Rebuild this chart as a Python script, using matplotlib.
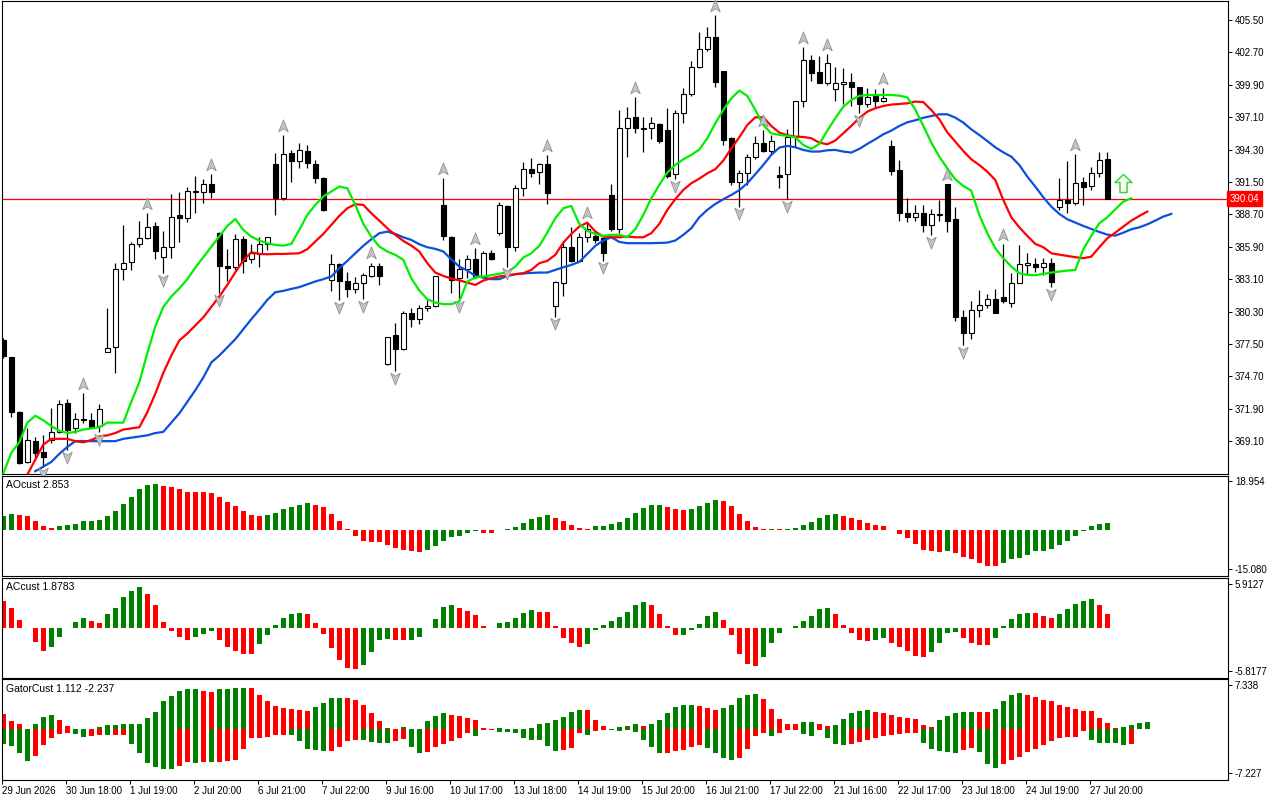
import matplotlib
matplotlib.use('Agg')
import matplotlib.pyplot as plt
import numpy as np
from matplotlib.path import Path
from matplotlib.transforms import offset_copy, blended_transform_factory

plt.rcParams['font.family'] = ['Liberation Sans', 'DejaVu Sans']

#### Candles (bar index 0 .. 138)
opens = [377.84, 376.37, 371.6, 367.3, 369.1, 368.16, 369.2, 369.89, 372.4, 370.2,
         371.0, 370.9, 370.4, 376.8, 377.24, 384.0, 384.6, 386.1, 386.7, 387.7,
         385.0, 385.9, 388.65, 388.4, 390.6, 390.6, 391.3, 387.1, 384.2, 384.13,
         386.55, 384.82, 385.28, 386.15, 393.06, 390.15, 393.98, 393.35, 394.18, 393.06,
         391.82, 383.04, 384.42, 382.9, 382.23, 382.75, 383.41, 384.25, 375.75, 378.29,
         377.05, 380.16, 379.64, 380.59, 380.79, 389.52, 386.78, 383.18, 383.96, 384.82,
         383.27, 385.4, 387.07, 389.43, 385.86, 390.96, 392.6, 392.4, 393.06, 380.78,
         382.81, 385.86, 384.71, 386.78, 386.84, 386.64, 390.38, 387.41, 396.14, 397.1,
         396.2, 396.14, 396.52, 396.0, 392.2, 397.44, 399.08, 401.47, 402.97, 404.0,
         401.1, 395.34, 391.53, 392.25, 393.64, 394.9, 394.21, 392.11, 392.17, 395.42,
         398.5, 402.05, 401.04, 400.09, 399.51, 399.97, 400.15, 399.69, 398.24, 398.94,
         398.53, 394.62, 392.54, 388.8, 388.45, 388.79, 387.79, 388.65, 391.33, 388.28,
         379.81, 378.43, 380.44, 380.87, 381.36, 381.54, 381.02, 382.8, 384.36, 384.42,
         384.13, 384.48, 389.31, 389.95, 389.72, 391.47, 391.18, 392.25, 393.46]
highs = [378.0, 376.4, 371.7, 370.24, 369.46, 369.63, 371.96, 372.66, 372.74, 371.5,
         373.3, 371.5, 372.3, 380.6, 384.5, 387.8, 386.3, 388.1, 388.8, 388.0,
         387.3, 390.5, 390.6, 391.1, 392.0, 391.8, 392.2, 387.2, 385.7, 387.0,
         386.84, 386.15, 386.78, 386.78, 393.98, 395.57, 394.27, 394.9, 394.7, 393.4,
         391.9, 385.29, 384.48, 383.76, 383.27, 383.67, 384.54, 384.48, 378.1, 379.3,
         380.39, 380.59, 380.88, 381.31, 383.4, 391.82, 386.8, 384.82, 385.2, 385.77,
         385.57, 385.63, 389.81, 389.5, 391.25, 393.26, 393.55, 393.18, 393.84, 382.9,
         386.44, 387.65, 387.07, 388.08, 387.36, 386.72, 391.3, 397.73, 397.96, 398.88,
         397.1, 397.1, 396.63, 397.87, 397.73, 399.6, 401.99, 404.49, 404.87, 405.93,
         401.1, 395.42, 392.54, 393.92, 395.48, 396.0, 395.57, 392.89, 396.06, 398.5,
         403.2, 402.45, 402.39, 402.6, 401.41, 401.33, 400.95, 399.69, 399.6, 399.51,
         399.65, 395.13, 393.41, 390.09, 389.52, 389.51, 389.14, 389.95, 391.33, 389.37,
         380.44, 381.25, 382.17, 381.82, 382.23, 386.15, 383.67, 386.06, 385.34, 384.91,
         384.91, 384.91, 391.82, 393.35, 393.92, 391.9, 392.77, 394.12, 394.12]
lows = [376.3, 371.19, 367.1, 367.2, 367.64, 366.9, 368.94, 369.8, 368.3, 369.8,
        370.7, 370.2, 369.9, 376.8, 375.0, 383.0, 383.9, 385.9, 386.6, 384.8,
        383.6, 384.9, 386.3, 388.0, 388.8, 389.7, 390.1, 381.9, 382.9, 383.9,
        383.67, 384.48, 384.13, 385.63, 388.65, 389.95, 391.53, 392.69, 392.69, 391.45,
        389.0, 382.12, 381.31, 381.54, 381.94, 381.4, 383.27, 382.6, 375.7, 375.12,
        377.0, 379.0, 379.24, 380.39, 380.7, 386.49, 381.9, 381.37, 383.18, 383.18,
        383.18, 384.77, 386.93, 384.19, 385.57, 390.3, 391.97, 391.33, 389.6, 379.86,
        381.66, 384.62, 384.62, 386.35, 386.21, 384.71, 387.3, 387.07, 393.64, 395.77,
        394.13, 395.19, 394.85, 391.85, 391.75, 396.57, 398.94, 401.33, 402.85, 399.74,
        394.7, 391.25, 389.37, 391.25, 393.46, 394.13, 393.92, 390.96, 390.01, 394.56,
        397.96, 400.26, 400.03, 399.89, 398.53, 398.24, 398.07, 397.44, 398.01, 397.96,
        398.45, 392.11, 388.16, 388.08, 388.16, 387.21, 386.92, 388.16, 387.21, 379.52,
        377.42, 377.91, 379.87, 380.59, 380.15, 381.08, 380.73, 382.75, 383.47, 383.76,
        383.47, 382.4, 389.08, 388.8, 389.51, 389.51, 390.81, 391.9, 390.0]
closes = [376.46, 371.62, 367.21, 369.2, 368.08, 367.73, 369.89, 372.31, 370.1, 371.0,
          370.9, 370.3, 371.9, 377.15, 383.98, 384.5, 386.1, 386.7, 387.6, 385.5,
          385.9, 388.5, 388.4, 390.7, 390.7, 391.3, 390.6, 384.2, 384.1, 386.55,
          384.71, 385.34, 386.15, 386.72, 390.09, 393.92, 393.35, 394.27, 393.12, 391.82,
          389.09, 384.42, 382.9, 382.23, 382.81, 383.47, 384.25, 383.41, 378.08, 377.05,
          380.16, 379.64, 380.59, 380.79, 383.38, 386.84, 383.04, 383.96, 384.82, 383.27,
          385.4, 384.82, 389.52, 385.86, 390.96, 392.6, 392.31, 393.06, 390.53, 382.88,
          385.92, 384.71, 386.78, 387.41, 386.49, 385.4, 387.41, 396.14, 397.01, 396.14,
          396.08, 396.57, 395.08, 392.02, 397.5, 399.08, 401.47, 402.97, 404.0, 400.17,
          395.13, 391.53, 392.25, 393.69, 394.9, 394.21, 395.05, 391.91, 395.42, 398.5,
          402.05, 400.95, 400.09, 401.76, 400.03, 400.15, 399.74, 398.24, 398.88, 398.53,
          398.73, 392.48, 388.8, 388.45, 388.8, 387.79, 388.71, 388.72, 388.16, 379.87,
          378.43, 380.44, 380.87, 381.36, 380.15, 381.25, 382.8, 384.42, 384.48, 384.13,
          384.48, 382.89, 389.95, 389.72, 391.39, 391.1, 392.25, 393.4, 390.04]

#### Alligator lines (shifted forward, first bar index given)
lips_start = 0
lips = [366.3, 368.1, 369.0, 370.7, 371.3, 370.9, 370.4, 370.0, 369.8, 369.9,
        370.1, 370.2, 370.3, 370.7, 370.7, 370.7, 372.5, 374.2, 376.7, 379.0,
        380.7, 381.6, 382.3, 383.1, 384.1, 385.0, 385.9, 386.8, 387.7, 388.3,
        387.36, 386.78, 386.44, 386.21, 386.06, 386.0, 386.15, 387.36, 388.65, 389.52,
        390.24, 390.67, 391.1, 390.96, 389.52, 387.88, 386.78, 385.92, 385.49, 385.2,
        384.77, 383.18, 382.12, 381.37, 381.08, 380.94, 380.94, 381.17, 382.9, 383.24,
        383.33, 383.44, 383.56, 383.7, 384.19, 384.97, 385.34, 385.98, 387.13, 388.37,
        389.23, 389.43, 387.88, 387.27, 387.01, 386.84, 386.93, 386.93, 386.72, 387.42,
        388.65, 390.09, 391.25, 392.31, 392.97, 393.46, 393.84, 394.3, 395.28, 396.57,
        397.73, 398.73, 399.4, 398.94, 397.73, 396.43, 395.71, 395.57, 395.48, 395.36,
        394.7, 394.36, 394.79, 395.94, 397.01, 398.01, 398.59, 398.94, 399.02, 399.02,
        399.02, 399.02, 398.96, 398.82, 397.77, 396.35, 394.9, 393.69, 392.68, 391.73,
        391.16, 390.75, 388.65, 387.07, 385.77, 384.91, 384.19, 383.61, 383.47, 383.44,
        383.55, 383.67, 383.76, 383.84, 383.9, 385.68, 386.84, 387.93, 388.45, 389.14,
        389.81, 390.09]
teeth_start = 3
teeth = [366.2, 367.5, 368.8, 369.3, 369.3, 369.3, 369.1, 369.0, 369.2, 369.5,
         369.6, 369.8, 370.1, 370.2, 370.3, 371.6, 373.2, 375.0, 376.5, 377.8,
         378.4, 379.1, 379.8, 380.7, 381.6, 382.6, 383.7, 384.71, 385.43, 385.28,
         385.25, 385.28, 385.28, 385.31, 385.34, 385.69, 386.35, 387.01, 387.79, 388.57,
         389.23, 389.58, 389.52, 388.8, 388.16, 387.5, 386.93, 386.41, 386.0, 385.49,
         384.48, 383.67, 383.38, 383.15, 383.0, 382.8, 382.6, 382.98, 383.18, 383.33,
         383.41, 383.53, 383.61, 383.9, 384.48, 384.68, 385.2, 386.26, 387.01, 387.65,
         387.99, 387.21, 386.78, 386.72, 386.72, 386.78, 386.72, 386.72, 387.07, 387.88,
         389.09, 390.01, 390.81, 391.39, 391.79, 392.25, 392.6, 393.35, 394.41, 395.36,
         396.43, 397.09, 397.09, 396.34, 395.77, 395.54, 395.42, 395.39, 395.28, 394.9,
         394.76, 395.08, 395.71, 396.34, 397.03, 397.58, 397.87, 398.07, 398.19, 398.24,
         398.3, 398.45, 398.4, 397.72, 396.92, 395.79, 394.99, 394.18, 393.46, 392.97,
         392.39, 391.67, 389.95, 388.45, 387.58, 386.84, 386.15, 385.86, 385.34, 385.22,
         385.11, 385.0, 384.91, 385.05, 385.86, 386.63, 387.12, 387.64, 388.16, 388.56,
         388.94]
jaw_start = 4
jaw = [366.5, 366.9, 367.3, 368.0, 368.6, 369.1, 369.1, 369.1, 369.1, 369.1,
       369.1, 369.3, 369.4, 369.5, 369.6, 369.8, 369.9, 370.7, 371.5, 372.5,
       373.5, 374.6, 375.9, 376.5, 377.2, 377.91, 378.78, 379.64, 380.45, 381.31,
       381.97, 382.09, 382.26, 382.41, 382.66, 382.9, 383.1, 383.33, 384.05, 384.68,
       385.34, 385.98, 386.55, 387.07, 387.21, 387.01, 386.72, 386.49, 386.12, 385.86,
       385.72, 385.49, 384.82, 384.19, 383.85, 383.38, 383.24, 383.1, 383.1, 383.38,
       383.53, 383.59, 383.64, 383.67, 383.67, 383.9, 384.13, 384.33, 384.59, 385.28,
       385.98, 386.44, 386.72, 386.32, 386.21, 386.21, 386.21, 386.21, 386.23, 386.26,
       386.44, 386.93, 387.5, 388.45, 389.09, 389.6, 390.01, 390.38, 390.79, 391.39,
       392.17, 392.97, 393.84, 394.47, 394.62, 394.5, 394.27, 394.13, 394.13, 394.24,
       394.27, 394.13, 394.04, 394.36, 394.79, 395.19, 395.62, 395.94, 396.34, 396.66,
       396.83, 397.05, 397.2, 397.35, 397.35, 397.06, 396.63, 396.05, 395.56, 395.04,
       394.5, 394.06, 393.69, 392.97, 391.96, 391.1, 390.18, 389.37, 388.74, 388.28,
       387.99, 387.7, 387.44, 387.18, 386.95, 386.86, 387.12, 387.41, 387.58, 387.84,
       388.16, 388.51, 388.74]

#### Fractals and signal
up_fractals = [10, 18, 26, 35, 46, 55, 59, 68, 73, 79, 89, 95, 100, 103, 110, 118, 125, 134]
down_fractals = [5, 8, 12, 20, 27, 42, 45, 49, 57, 63, 69, 75, 84, 92, 98, 107, 116, 120, 131]
signal_bar = 140
signal_price = 391.45
last_price = 390.04

#### Oscillators (dir: g = rising, r = falling)
ao = [5.5, 6.4, 5.9, 5.5, 3.7, 1.7, 0.9, 1.7, 2.1, 2.4,
      3.5, 3.6, 4.0, 5.5, 7.6, 10.2, 12.9, 15.9, 17.5, 18.0,
      17.1, 16.6, 16.0, 14.9, 14.85, 14.8, 14.4, 12.9, 11.0, 9.4,
      7.5, 5.9, 5.5, 5.9, 6.8, 8.1, 8.8, 9.9, 10.7, 9.8,
      8.8, 6.4, 3.4, 0.6, -2.2, -4.1, -4.4, -4.45, -5.7, -6.7,
      -7.6, -8.0, -8.6, -7.6, -6.3, -4.1, -2.8, -2.2, -0.9, -0.5,
      -0.9, -0.95, 0.1, 0.5, 1.3, 2.8, 4.4, 5.2, 5.9, 4.8,
      3.6, 2.1, 0.9, 0.3, 1.7, 1.75, 2.4, 3.2, 4.8, 6.7,
      8.6, 9.8, 9.85, 9.0, 8.2, 7.9, 8.2, 9.4, 10.6, 11.7,
      11.3, 9.4, 6.3, 3.6, 1.3, 0.5, 0.52, 0.45, 0.6, 0.95,
      2.1, 3.2, 4.8, 5.9, 6.3, 5.5, 4.8, 4.0, 2.8, 2.1,
      1.7, 0.1, -1.3, -3.2, -5.2, -7.6, -8.2, -8.6, -8.2, -9.0,
      -10.2, -11.3, -12.5, -13.7, -13.75, -12.5, -11.3, -10.6, -9.4, -8.2,
      -7.9, -7.1, -5.9, -4.0, -2.1, -0.4, 1.7, 2.4, 2.853]
ao_dir = ("ggrrrrrggg" "gggggggggg" "rrrrrrrrrr" "rrrggggggr" "rrrrrrrrrr"
          "rrrggggggg" "rrgggggggr" "rrrrgggggg" "gggrrrgggg" "rrrrrrgrgg"
          "gggggrrrrr" "rrrrrrrrgr" "rrrrrggggg" "ggggggggg")
ac = [3.6, 2.7, 1.0, -0.1, -1.9, -3.1, -2.6, -1.2, -0.1, 0.8,
      1.35, 0.95, 0.7, 1.8, 2.7, 4.1, 5.0, 5.5, 4.6, 3.1,
      0.8, -0.4, -1.2, -1.6, -1.2, -0.8, -0.5, -1.6, -2.6, -3.2,
      -3.5, -3.6, -2.2, -1.0, 0.3, 1.35, 1.85, 2.0, 1.9, 0.7,
      -0.8, -2.8, -4.4, -5.4, -5.5, -5.0, -3.3, -1.7, -1.55, -1.6,
      -1.65, -1.6, -1.3, -0.1, 1.2, 2.8, 3.0, 2.6, 2.3, 1.75,
      0.27, -0.1, 0.67, 0.8, 1.35, 2.0, 2.4, 2.15, 2.1, 0.27,
      -1.35, -2.1, -2.6, -2.25, -0.27, 0.4, 0.95, 1.5, 2.15, 3.0,
      3.4, 3.1, 1.9, 0.27, -1.0, -0.95, -0.36, 0.55, 1.6, 2.15,
      1.08, -1.0, -3.5, -4.9, -5.1, -3.9, -2.0, -0.76, -0.05, 0.27,
      0.95, 1.6, 2.55, 2.7, 1.9, 0.4, -0.76, -1.6, -1.85, -1.7,
      -1.45, -2.0, -2.6, -3.2, -3.8, -4.0, -3.3, -2.1, -0.76, -0.6,
      -1.45, -2.0, -2.3, -2.3, -1.45, 0.27, 1.2, 1.9, 2.0, 2.0,
      1.6, 1.35, 1.9, 2.55, 3.2, 3.6, 3.9, 3.1, 1.8783]
ac_dir = ("rrrrrrgggg" "grrgggggrr" "rrrrgggrrr" "rrggggggrr" "rrrrrggggr"
          "rggggggrrr" "rrgggggrrr" "rrrggggggg" "grrrrggggg" "rrrrrggggg"
          "ggggrrrrrg" "grrrrrgggg" "rrrrgggggr" "rrgggggrr")
gator_up = [2.5, 1.4, 0.9, 0.05, 0.9, 2.0, 2.4, 1.5, 0.55, 0.02,
            0.03, 0.02, 0.45, 0.7, 0.72, 0.9, 0.92, 0.95, 1.9, 2.9,
            4.7, 5.5, 6.3, 6.7, 6.75, 6.3, 6.25, 6.6, 6.7, 6.85,
            6.9, 6.8, 5.7, 4.7, 3.9, 3.5, 3.3, 3.2, 3.0, 3.75,
            4.3, 5.1, 5.2, 5.1, 4.9, 4.1, 2.65, 1.4, 0.25, 0.02,
            0.45, 0.02, 0.01, 1.4, 2.2, 2.7, 2.4, 2.2, 1.9, 1.55,
            0.22, 0.05, 0.2, 0.02, 0.01, 0.0, 0.15, 0.9, 1.05, 1.55,
            2.1, 2.9, 3.2, 3.15, 1.55, 0.55, 0.05, 0.4, 0.55, 0.8,
            0.55, 0.8, 1.55, 2.7, 3.75, 3.95, 3.97, 3.8, 3.6, 3.25,
            3.6, 4.1, 5.1, 5.6, 5.8, 5.0, 3.4, 1.77, 0.94, 0.92,
            1.16, 1.27, 0.88, 0.55, 0.72, 1.71, 2.7, 3.04, 3.2, 2.87,
            2.7, 2.37, 2.04, 1.88, 1.71, 0.72, 0.39, 1.55, 2.21, 2.7,
            2.87, 2.88, 2.85, 2.84, 3.37, 4.69, 5.68, 6.0, 5.68, 5.35,
            4.86, 4.69, 4.03, 3.7, 3.37, 3.04, 3.03, 1.88, 1.112, 0.22,
            0.39, 0.72, 1.05, 1.21]
gator_up_dir = ("rrrrgggrrr" "grgggggggg" "gggggrrggg" "grrrrrrrrg" "gggrrrrrrr"
                "grrgggrrrr" "rggrrrgggg" "gggrrrgggg" "rggggggrrr" "gggggrrrrr"
                "ggrrgggggr" "rrrrrrrggg" "ggrrggggrr" "rrrrrrrrrr" "gggg")
gator_dn = [-2.4, -2.8, -4.0, -5.2, -4.4, -2.6, -1.4, -0.8, -0.55, -0.7,
            -1.3, -1.1, -0.95, -1.0, -1.0, -0.95, -2.5, -4.0, -5.5, -6.3,
            -6.5, -6.6, -6.1, -5.4, -5.5, -5.4, -5.45, -5.4, -5.2, -5.1,
            -3.2, -1.4, -1.4, -1.2, -0.9, -0.9, -0.92, -2.0, -3.2, -3.4,
            -3.6, -3.55, -3.0, -2.0, -1.7, -1.75, -2.1, -2.2, -2.25, -1.9,
            -1.65, -3.0, -4.0, -3.75, -2.9, -2.5, -2.0, -1.4, -0.55, -1.1,
            -0.1, -0.05, -0.45, -0.47, -0.55, -1.4, -1.75, -1.76, -2.75, -3.6,
            -3.4, -3.1, -0.55, -0.95, -0.3, -0.1, -0.12, -0.3, -0.1, -0.45,
            -1.75, -3.0, -4.0, -3.85, -3.6, -3.4, -2.9, -2.65, -3.1, -3.9,
            -4.75, -5.1, -4.75, -3.3, -1.1, -0.6, -1.1, -0.6, -0.17, -0.15,
            -0.83, -1.1, -0.11, -1.38, -2.37, -2.54, -2.5, -2.04, -1.71, -1.38,
            -1.05, -0.88, -0.72, -0.55, -0.54, -2.21, -3.2, -3.59, -3.75, -3.86,
            -3.37, -3.04, -3.75, -5.68, -6.35, -5.68, -5.0, -4.53, -3.75, -3.2,
            -2.54, -1.93, -1.38, -1.21, -1.2, -0.28, -1.71, -2.21, -2.237, -2.25,
            -2.54, -2.5]
gator_dn_dir = ("ggggrrrrrg" "grrgrrgggg" "ggrrgrgrrr" "rrrrrrgggg" "grrrrggggr"
                "rggrrrrrrg" "rrgggggggg" "rrrgrrggrg" "gggrrrrrgg" "ggrrrrgrrr"
                "ggrgggrrrr" "rrrrrggggg" "rrgggrrrrr" "rrrrrrgggg" "gr")

#### Axis labels
price_ticks = [405.50, 402.70, 399.90, 397.10, 394.30, 391.50, 388.70,
               385.90, 383.10, 380.30, 377.50, 374.70, 371.90, 369.10]
ao_ticks = [18.954, -15.080]
ao_tick_labels = ['18.954', '-15.080']
ac_ticks = [5.9127, -5.8177]
ac_tick_labels = ['5.9127', '-5.8177']
gator_ticks = [7.338, -7.227]
gator_tick_labels = ['7.338', '-7.227']
date_labels = ['29 Jun 2026', '30 Jun 18:00', '1 Jul 19:00', '2 Jul 20:00', '6 Jul 21:00',
               '7 Jul 22:00', '9 Jul 16:00', '10 Jul 17:00', '13 Jul 18:00', '14 Jul 19:00',
               '15 Jul 20:00', '16 Jul 21:00', '17 Jul 22:00', '21 Jul 16:00', '22 Jul 17:00',
               '23 Jul 18:00', '24 Jul 19:00', '27 Jul 20:00']
date_every = 8

GREEN = '#008000'
RED = '#ff0000'
W, H = 1280, 800
fig = plt.figure(figsize=(12.8, 8), dpi=100)


def px_axes(x0, y0, x1, y1):
    return fig.add_axes([x0 / W, 1 - y1 / H, (x1 - x0) / W, (y1 - y0) / H])


main = px_axes(2, 1, 1228, 474)
ao_ax = px_axes(2, 476, 1228, 576)
ac_ax = px_axes(2, 577.5, 1228, 677.5)
gt_ax = px_axes(2, 679, 1228, 779.5)

xmin, xmax = (2 - 3.3) / 8, (1228 - 3.3) / 8
for ax in (main, ao_ax, ac_ax, gt_ax):
    ax.set_xlim(xmin, xmax)
    for s in ax.spines.values():
        s.set_linewidth(0.8)
        s.set_color('black')
    ax.tick_params(axis='y', left=False, labelleft=False, right=True, labelright=True,
                   length=3, width=0.7, labelsize=7, pad=2, direction='out')
    ax.tick_params(axis='x', bottom=False, labelbottom=False)

#### Main chart
main.set_ylim(405.5 - 454 / 11.57, 405.5 + 19 / 11.57)
main.set_yticks(price_ticks)
main.set_yticklabels(['%.2f' % t for t in price_ticks])

x = np.arange(len(opens))
o = np.array(opens); c = np.array(closes)
main.vlines(x, lows, highs, color='black', lw=0.9, zorder=2)
body_lo = np.minimum(o, c)
body_h = np.maximum(np.abs(c - o), 0.04)
face = ['white' if cc >= oo else 'black' for oo, cc in zip(o, c)]
main.bar(x, body_h, bottom=body_lo, width=0.62, color=face, edgecolor='black',
         linewidth=0.8, zorder=3)

main.plot(np.arange(jaw_start, jaw_start + len(jaw)), jaw, color='#0a50dc', lw=1.6, zorder=4)
main.plot(np.arange(teeth_start, teeth_start + len(teeth)), teeth, color='#ff0000', lw=1.6, zorder=4)
main.plot(np.arange(lips_start, lips_start + len(lips)), lips, color='#00ee00', lw=1.6, zorder=4)

main.axhline(last_price, color='#ff0000', lw=0.9, zorder=1)
btr = blended_transform_factory(main.transAxes, main.transData)
main.text(1.0015, last_price, '%.2f' % last_price, transform=btr, fontsize=7, color='white',
          va='center', ha='left', clip_on=False,
          bbox=dict(boxstyle='square,pad=0.25', fc='#ff0000', ec='#ff0000'))

# fractal arrows
arrow = Path([(0, 1), (0.72, -0.8), (0, -0.35), (-0.72, -0.8), (0, 1)],
             [Path.MOVETO, Path.LINETO, Path.LINETO, Path.LINETO, Path.CLOSEPOLY])
arrow_dn = Path(arrow.vertices * [1, -1], arrow.codes)
hi = np.array(highs); lo = np.array(lows)
up_tr = offset_copy(main.transData, fig=fig, y=6.5, units='points')
dn_tr = offset_copy(main.transData, fig=fig, y=-4.9, units='points')
main.plot(up_fractals, hi[up_fractals], ls='none', marker=arrow, markersize=9.5,
          mfc='#c4c4c4', mec='#8f8f8f', mew=0.6, transform=up_tr, zorder=5, clip_on=False)
main.plot(down_fractals, lo[down_fractals], ls='none', marker=arrow_dn, markersize=9.5,
          mfc='#c4c4c4', mec='#8f8f8f', mew=0.6, transform=dn_tr, zorder=5, clip_on=False)

big_arrow = Path([(0, 1), (0.94, 0.11), (0.39, 0.11), (0.39, -1), (-0.39, -1), (-0.39, 0.11),
                  (-0.94, 0.11), (0, 1)],
                 [Path.MOVETO] + [Path.LINETO] * 6 + [Path.CLOSEPOLY])
main.plot([signal_bar], [signal_price], ls='none', marker=big_arrow, markersize=13,
          mfc='#fbfff0', mec='#44d044', mew=1.1, zorder=6)

#### AO
ao_ax.set_ylim(-45.8 / 2.586, 54.2 / 2.586)
ao_ax.bar(np.arange(len(ao)), ao, width=0.6,
          color=[GREEN if d == 'g' else RED for d in ao_dir], linewidth=0)
ao_ax.set_yticks(ao_ticks)
ao_ax.set_yticklabels(ao_tick_labels)
ao_ax.text(0.0033, 0.955, 'AOcust %.3f' % ao[-1], transform=ao_ax.transAxes,
           fontsize=7.5, va='top', ha='left')

#### AC
ac_ax.set_ylim(-49.8 / 7.42, 50.2 / 7.42)
ac_ax.bar(np.arange(len(ac)), ac, width=0.6,
          color=[GREEN if d == 'g' else RED for d in ac_dir], linewidth=0)
ac_ax.set_yticks(ac_ticks)
ac_ax.set_yticklabels(ac_tick_labels)
ac_ax.text(0.0033, 0.955, 'ACcust %.4f' % ac[-1], transform=ac_ax.transAxes,
           fontsize=7.5, va='top', ha='left')

#### Gator
gt_ax.set_ylim(-50.2 / 6.04, 50.3 / 6.04)
gt_ax.bar(np.arange(len(gator_up)), gator_up, width=0.6,
          color=[GREEN if d == 'g' else RED for d in gator_up_dir], linewidth=0)
gt_ax.bar(np.arange(len(gator_dn)), gator_dn, width=0.6,
          color=[GREEN if d == 'g' else RED for d in gator_dn_dir], linewidth=0)
gt_ax.set_yticks(gator_ticks)
gt_ax.set_yticklabels(gator_tick_labels)
gt_ax.text(0.0033, 0.955, 'GatorCust %.3f %.3f' % (gator_up[138], gator_dn[138]),
           transform=gt_ax.transAxes, fontsize=7.5, va='top', ha='left')

xt = [date_every * k - 0.125 for k in range(len(date_labels))]
gt_ax.set_xticks(xt)
gt_ax.set_xticklabels(date_labels)
gt_ax.tick_params(axis='x', bottom=True, labelbottom=True, length=3, width=0.7,
                  labelsize=7, pad=1.5, direction='out')
for lbl in gt_ax.get_xticklabels():
    lbl.set_ha('left')

fig.savefig('out.png', dpi=100, facecolor='white')
